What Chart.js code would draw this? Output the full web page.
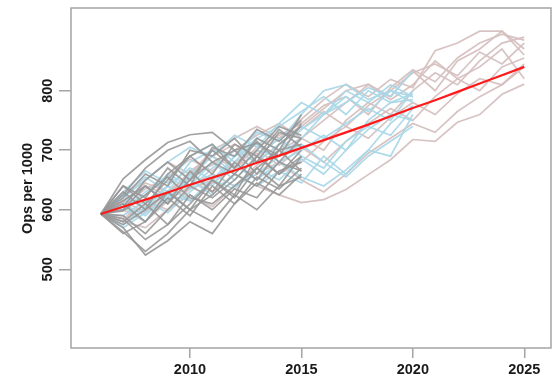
<!DOCTYPE html>
<html>
<head>
<meta charset="utf-8">
<script src="https://cdn.jsdelivr.net/npm/chart.js@4/dist/chart.umd.min.js"></script>
<style>
  html, body { margin: 0; padding: 0; background: #ffffff; }
  #wrap { width: 552px; height: 376px; position: relative; }
</style>
</head>
<body>
<div id="wrap"><canvas id="c" width="552" height="376"></canvas></div>
<script>
// ---------- data ----------
const years = [2006,2007,2008,2009,2010,2011,2012,2013,2014,2015,2016,2017,2018,2019,2020,2021,2022,2023,2024,2025];
const xTicks = [2010, 2015, 2020, 2025];
const yTicks = [500, 600, 700, 800];
const yLabel = "Ops per 1000";

// mean trajectory (red)
const meanLine = [593,605,617,629,642,654,666,679,691,704,717,730,743,757,771,784,798,812,826,840];

// grey runs: 2006-2015
const greyRuns = [
  [593,652,684,713,726,730,700,712,690,745],
  [593,640,610,650,690,710,670,720,700,760],
  [593,563,530,560,600,580,625,600,640,655],
  [593,570,524,548,580,560,610,645,625,660],
  [593,620,660,640,700,690,720,680,730,720],
  [593,610,580,630,600,650,625,690,660,700],
  [593,600,640,610,665,630,680,650,700,710],
  [593,580,610,575,610,650,620,670,640,690],
  [593,630,600,660,690,660,710,690,735,705],
  [593,605,650,680,650,700,670,715,680,720],
  [593,575,600,630,600,625,660,640,680,665],
  [593,625,670,700,715,680,660,700,740,725],
  [593,590,560,600,640,620,650,690,660,690],
  [593,615,640,610,650,680,700,660,710,740],
  [593,560,580,620,590,640,610,655,635,670],
  [593,640,620,670,640,705,690,735,715,750],
  [593,598,625,655,620,610,640,670,700,665],
  [593,585,550,575,625,600,635,620,665,680]
];

// light blue runs: 2006-2020
const blueRuns = [
  [593,625,655,630,680,700,690,730,715,760,800,810,785,800,790],
  [593,605,580,620,655,690,660,700,690,720,760,780,805,790,833],
  [593,575,605,640,615,650,675,650,680,655,640,667,700,690,760],
  [593,610,640,615,660,640,690,710,680,700,725,700,750,780,785],
  [593,600,625,660,640,680,650,690,720,690,670,715,740,725,770],
  [593,630,665,645,690,710,680,720,740,765,790,760,800,780,795],
  [593,570,595,620,650,625,660,640,665,645,690,660,700,745,775],
  [593,610,590,625,615,650,635,670,650,685,660,700,735,760,750],
  [593,620,650,680,705,690,725,705,745,780,760,800,780,810,790],
  [593,590,615,595,630,660,640,660,690,710,680,655,690,715,740],
  [593,625,600,640,670,650,690,720,700,735,760,790,765,800,780],
  [593,600,630,655,635,670,700,680,710,740,720,745,770,750,800]
];

// pink runs: 2006-2025
const pinkRuns = [
  [593,615,640,625,665,690,710,690,720,752,785,811,790,819,805,867,880,900,900,870],
  [593,600,580,615,640,660,640,675,700,720,700,750,780,760,800,830,810,850,880,890],
  [593,580,600,630,650,630,660,640,625,612,617,634,659,684,718,715,747,760,794,811],
  [593,625,650,680,660,700,720,740,720,740,770,800,811,790,833,800,850,870,900,860],
  [593,590,615,600,635,650,680,700,675,705,680,715,745,770,750,790,820,800,840,855],
  [593,615,595,630,660,675,700,680,710,735,765,740,775,800,830,845,825,865,845,880],
  [593,585,610,640,615,645,670,695,660,680,715,740,720,755,780,760,795,820,810,840],
  [593,605,635,655,685,665,700,725,745,720,750,780,810,785,810,850,820,840,870,820],
  [593,580,570,600,625,605,640,660,680,650,630,660,695,720,745,730,765,790,810,845],
  [593,612,645,630,660,690,670,705,725,745,775,790,760,805,835,815,855,880,895,885]
];

// ---------- build datasets ----------
function toPoints(vals) {
  return vals.map((v, i) => ({ x: years[i], y: v }));
}
const datasets = [];
// first dataset is drawn on top in Chart.js
datasets.push({ data: toPoints(meanLine), borderColor: '#ff1a1a', borderWidth: 2.2 });
greyRuns.forEach(r => datasets.push({ data: toPoints(r), borderColor: 'rgba(152,152,152,0.9)', borderWidth: 1.7 }));
blueRuns.forEach(r => datasets.push({ data: toPoints(r), borderColor: 'rgba(170,216,232,0.95)', borderWidth: 1.7 }));
pinkRuns.forEach(r => datasets.push({ data: toPoints(r), borderColor: 'rgba(214,192,192,0.95)', borderWidth: 1.7 }));

const FONT = "'Liberation Sans', Arial, Helvetica, sans-serif";

const boxPlugin = {
  id: 'boxPlugin',
  beforeDatasetsDraw(chart) {
    const { ctx, chartArea: a } = chart;
    ctx.save();
    ctx.strokeStyle = '#a4a4a4';
    ctx.lineWidth = 1.5;
    ctx.strokeRect(a.left, a.top, a.right - a.left, a.bottom - a.top);
    ctx.restore();
  },
  afterDraw(chart) {
    const { ctx } = chart;
    ctx.save();
    ctx.translate(31.5, 188.5);
    ctx.rotate(-Math.PI / 2);
    ctx.font = "bold 14.5px " + FONT;
    ctx.fillStyle = '#1a1a1a';
    ctx.textAlign = 'center';
    ctx.textBaseline = 'alphabetic';
    ctx.fillText(yLabel, 0, 0);
    ctx.restore();
  }
};

new Chart(document.getElementById('c'), {
  type: 'line',
  data: { datasets },
  options: {
    responsive: false,
    animation: false,
    devicePixelRatio: 1,
    layout: { padding: { top: 8, right: 1, left: 0, bottom: 0 } },
    elements: { point: { radius: 0 }, line: { tension: 0, fill: false } },
    plugins: { legend: { display: false }, tooltip: { enabled: false } },
    scales: {
      x: {
        type: 'linear',
        min: 2004.66,
        max: 2026.2,
        afterBuildTicks: s => { s.ticks = xTicks.map(v => ({ value: v })); },
        afterFit: s => { s.height = 28; },
        border: { display: false },
        grid: { display: true, drawOnChartArea: false, drawTicks: true, tickLength: 10, color: '#a4a4a4', lineWidth: 1.5 },
        ticks: { font: { family: FONT, size: 14.5, weight: 'bold' }, color: '#1a1a1a', padding: 3, maxRotation: 0, minRotation: 0,
                 callback: v => String(v) }
      },
      y: {
        type: 'linear',
        min: 367.8,
        max: 938.9,
        afterBuildTicks: s => { s.ticks = yTicks.map(v => ({ value: v })); },
        afterFit: s => { s.width = 71; },
        border: { display: false },
        grid: { display: true, drawOnChartArea: false, drawTicks: true, tickLength: 12, color: '#a4a4a4', lineWidth: 1.5 },
        ticks: { font: { family: FONT, size: 14.5, weight: 'bold' }, color: '#1a1a1a', padding: -1, minRotation: 90, maxRotation: 90, crossAlign: 'center',
                 callback: v => String(v) }
      }
    }
  },
  plugins: [boxPlugin]
});
</script>
</body>
</html>
